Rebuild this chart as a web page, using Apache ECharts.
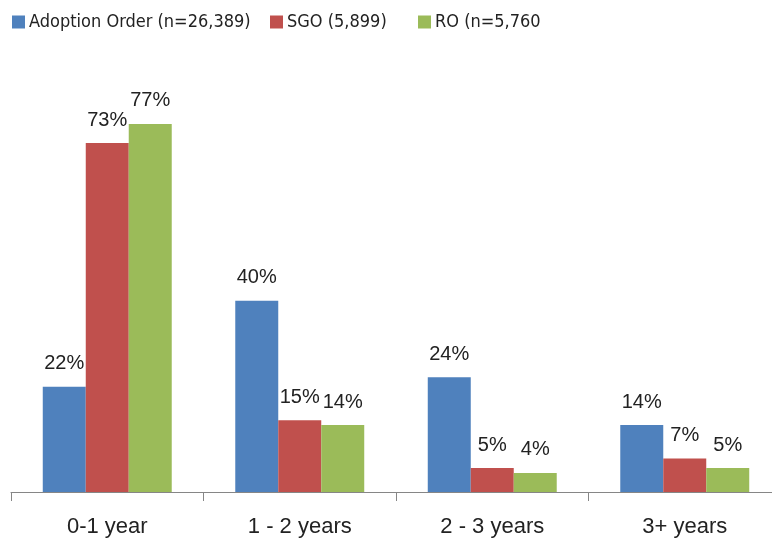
<!DOCTYPE html>
<html>
<head>
<meta charset="utf-8">
<script src="https://cdn.jsdelivr.net/npm/echarts@6/dist/echarts.min.js"></script>
<style>
  html, body { margin: 0; padding: 0; background: #fff; overflow: hidden; }
  #main { width: 781px; height: 543px; }
</style>
</head>
<body>
<div id="main"></div>
<script>
var categories = ['0-1 year', '1 - 2 years', '2 - 3 years', '3+ years']
var seriesNames = ['Adoption Order (n=26,389)', 'SGO (5,899)', 'RO (n=5,760']
var adoptionValues = [22, 40, 24, 14]
var sgoValues = [73, 15, 5, 7]
var roValues = [77, 14, 4, 5]

var colors = ['#4F81BD', '#C0504D', '#9BBB59']
var fontFam = '"DejaVu Sans Condensed", "Liberation Sans", sans-serif'

function makeSeries(name, values, color){
    return {
        name: name,
        type: 'bar',
        data: values,
        barGap: '0%',
        barCategoryGap: '33%',
        itemStyle: { color: color },
        label: {
            show: true,
            position: 'top',
            distance: 13,
            formatter: '{c}%',
            fontFamily: '"Liberation Sans", sans-serif',
            fontSize: 20,
            lineHeight: 20,
            color: '#222'
        }
    }
}

function legendAt(name, left){
    return {
        data: [name],
        left: left,
        top: 8,
        itemWidth: 13,
        itemHeight: 13,
        itemGap: 0,
        icon: 'rect',
        selectedMode: false,
        textStyle: { fontFamily: fontFam, fontSize: 18, color: '#222', padding: [0, 0, 0, -1] }
    }
}

var option = {
    animation: false,
    legend: [
        legendAt(seriesNames[0], 7),
        legendAt(seriesNames[1], 265),
        legendAt(seriesNames[2], 413)
    ],
    // the last tick sits just outside the picture, so the chart is a little wider than the window
    grid: { left: 11, top: 14, bottom: 51, right: 0, containLabel: false },
    xAxis: {
        type: 'category',
        data: categories,
        axisLine: { lineStyle: { color: '#868686', width: 1 } },
        axisTick: { show: true, length: 9, lineStyle: { color: '#868686' } },
        axisLabel: { margin: 24, fontFamily: '"Liberation Sans", sans-serif', fontSize: 22, color: '#222' }
    },
    yAxis: {
        type: 'value',
        min: 0,
        max: 100,
        show: false,
        splitLine: { show: false }
    },
    series: [
        makeSeries(seriesNames[0], adoptionValues, colors[0]),
        makeSeries(seriesNames[1], sgoValues, colors[1]),
        makeSeries(seriesNames[2], roValues, colors[2])
    ]
}

var myChart = echarts.init(document.getElementById('main'))
myChart.setOption(option)
</script>
</body>
</html>
